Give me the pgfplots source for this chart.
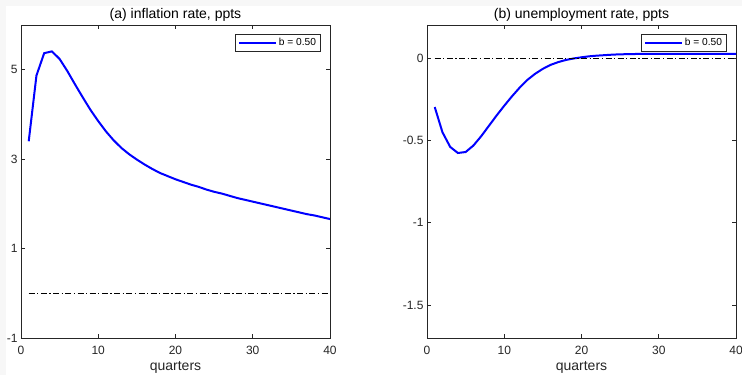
\documentclass[border=0pt]{standalone}
\usepackage{pgfplots}
\pgfplotsset{compat=1.18}
\usepackage{fontspec}
\setmainfont{Liberation Sans}
\definecolor{axgray}{rgb}{0.15,0.15,0.15}
\definecolor{bgout}{RGB}{247,247,247}
\pgfplotsset{
  myax/.style={
    scale only axis, width=309pt, height=313pt,
    xmin=0, xmax=40, xtick={0,10,20,30,40},
    axis line style={axgray, line width=0.7pt},
    tick style={axgray, line width=0.7pt},
    tick align=inside, major tick length=4pt,
    ticklabel style={font=\fontsize{12}{14}\selectfont, text=axgray},
    xticklabel style={anchor=center, yshift=-12.5pt},
    /pgf/number format/assume math mode=true,
    xlabel={quarters}, xlabel style={font=\fontsize{14}{16}\selectfont, text=axgray, at={(axis description cs:0.5,0)}, anchor=center, yshift=-29pt},
    title style={font=\fontsize{14}{16}\selectfont, text=black, at={(axis description cs:0.5,1)}, anchor=center, yshift=4.5pt},
    legend style={font=\fontsize{10.2}{12}\selectfont, draw=axgray, line width=0.6pt, inner xsep=2.5pt, inner ysep=2.2pt, at={(0.9705,0.972)}, anchor=north east, legend cell align=left},
    legend image code/.code={\draw[blue, line width=2pt] (0cm,0cm) -- (1.3cm,0cm);},
    clip=true,
  }
}
\begin{document}
\begin{tikzpicture}
\useasboundingbox (-21pt,-37pt) rectangle (721pt,338pt);
\fill[bgout] (-21pt,-37pt) rectangle (721pt,338pt);
\fill[white] (-15pt,-37pt) rectangle (721pt,332pt);
\begin{axis}[myax, at={(0pt,0pt)}, anchor=south west,
  ymin=-1, ymax=6, ytick={-1,1,3,5},
  title={(a) inflation rate, ppts}]
\addplot[blue, line width=2pt] coordinates {
(1,3.40)(2,4.87)(3,5.37)(4,5.41)(5,5.24)(6,4.97)(7,4.67)(8,4.38)(9,4.10)(10,3.85)
(11,3.62)(12,3.42)(13,3.25)(14,3.11)(15,2.99)(16,2.88)(17,2.78)(18,2.69)(19,2.62)(20,2.55)
(21,2.49)(22,2.43)(23,2.38)(24,2.32)(25,2.27)(26,2.23)(27,2.18)(28,2.13)(29,2.09)(30,2.05)
(31,2.01)(32,1.97)(33,1.93)(34,1.89)(35,1.85)(36,1.81)(37,1.77)(38,1.74)(39,1.70)(40,1.66)};
\addlegendentry{b = 0.50}
\addplot[black, line width=0.8pt, dash pattern=on 6pt off 2.5pt on 1.2pt off 2.5pt, forget plot] coordinates {(1,0)(40,0)};
\end{axis}
\begin{axis}[myax, at={(406pt,0pt)}, anchor=south west,
  ymin=-1.7, ymax=0.2, ytick={-1.5,-1,-0.5,0},
  yticklabels={-1.5,-1,-0.5,0},
  title={(b) unemployment rate, ppts}]
\addplot[blue, line width=2pt] coordinates {
(1,-0.298)(2,-0.451)(3,-0.540)(4,-0.577)(5,-0.571)(6,-0.532)(7,-0.476)(8,-0.413)(9,-0.350)(10,-0.290)
(11,-0.233)(12,-0.180)(13,-0.133)(14,-0.096)(15,-0.066)(16,-0.042)(17,-0.025)(18,-0.012)(19,-0.003)(20,0.004)
(21,0.010)(22,0.014)(23,0.017)(24,0.020)(25,0.022)(26,0.023)(27,0.024)(28,0.025)(29,0.025)(30,0.025)
(31,0.025)(32,0.025)(33,0.025)(34,0.025)(35,0.025)(36,0.025)(37,0.025)(38,0.025)(39,0.025)(40,0.025)};
\addlegendentry{b = 0.50}
\addplot[black, line width=0.8pt, dash pattern=on 6pt off 2.5pt on 1.2pt off 2.5pt, forget plot] coordinates {(1,0)(40,0)};
\end{axis}
\end{tikzpicture}
\end{document}
